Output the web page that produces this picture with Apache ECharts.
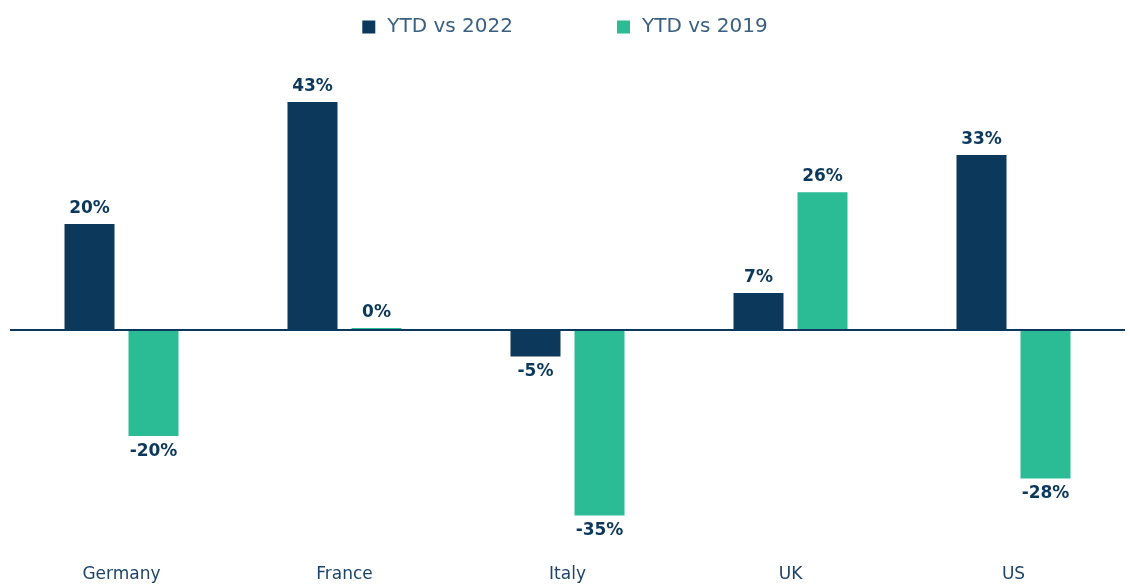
<!DOCTYPE html>
<html>
<head>
<meta charset="UTF-8">
<title>YTD vs 2022 / 2019</title>
<script src="https://cdn.jsdelivr.net/npm/echarts@6/dist/echarts.min.js"></script>
<style>
  html, body { margin: 0; padding: 0; background: #fff; }
  #chart { width: 1130px; height: 585px; }
</style>
</head>
<body>
<div id="chart"></div>
<script>
var countries = ['Germany', 'France', 'Italy', 'UK', 'US'];
var ytdVs2022 = [20, 43, -5, 7, 33];
var ytdVs2019 = [-20, 0.4, -35, 26, -28];

var navy = '#0c385b';
var teal = '#2bbb95';

// labels go above positive bars and below negative ones
function withLabels(values) {
    return values.map(function (v) {
        return { value: v, label: { position: v < 0 ? 'bottom' : 'top' } };
    });
}

var labelStyle = {
    show: true,
    distance: 7,
    fontFamily: 'DejaVu Sans',
    fontWeight: 'bold',
    fontSize: 17,
    color: '#0c385b',
    formatter: function (p) { return Math.round(p.value) + '%'; }
};

var chart = echarts.init(document.getElementById('chart'));
chart.setOption({
    animation: false,
    legend: {
        top: 12,
        left: 'center',
        icon: 'rect',
        itemWidth: 13,
        itemHeight: 13,
        itemGap: 104,
        textStyle: { fontFamily: 'DejaVu Sans', fontSize: 20, color: '#3a5f80', padding: [0, 0, 0, 7] },
        data: ['YTD vs 2022', 'YTD vs 2019']
    },
    grid: { left: 10, right: 5, top: 65, bottom: 43 },
    xAxis: {
        type: 'category',
        data: countries,
        axisLine: { show: false, onZero: false },
        axisTick: { show: false },
        axisLabel: { margin: 24, fontFamily: 'DejaVu Sans', fontSize: 17, color: '#1d4468' }
    },
    yAxis: {
        type: 'value',
        min: -40,
        max: 50,
        show: false,
        splitLine: { show: false }
    },
    series: [{
        name: 'YTD vs 2022',
        type: 'bar',
        barWidth: 50,
        barGap: '28%',
        itemStyle: { color: navy },
        label: labelStyle,
        data: withLabels(ytdVs2022),
        markLine: {
            silent: true,
            symbol: ['none', 'none'],
            label: { show: false },
            lineStyle: { color: navy, width: 2, type: 'solid' },
            data: [{ yAxis: 0 }]
        }
    }, {
        name: 'YTD vs 2019',
        type: 'bar',
        barWidth: 50,
        barGap: '28%',
        itemStyle: { color: teal },
        label: labelStyle,
        data: withLabels(ytdVs2019)
    }]
});
</script>
</body>
</html>
